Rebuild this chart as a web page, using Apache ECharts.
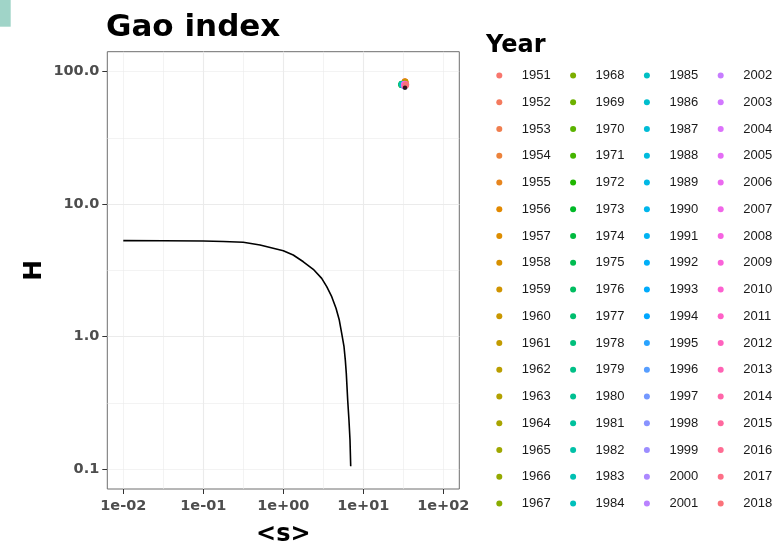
<!DOCTYPE html>
<html>
<head>
<meta charset="utf-8">
<script src="https://cdn.jsdelivr.net/npm/echarts@6/dist/echarts.min.js"></script>
<style>
  html, body { margin: 0; padding: 0; background: #ffffff; }
  #chart { width: 779px; height: 545px; }
</style>
</head>
<body>
<div id="chart"></div>
<script>
// Years shown in the legend, one scatter series each
const years = [
  1951, 1952, 1953, 1954, 1955, 1956, 1957, 1958, 1959, 1960, 1961, 1962, 1963, 1964, 1965, 1966, 1967,
  1968, 1969, 1970, 1971, 1972, 1973, 1974, 1975, 1976, 1977, 1978, 1979, 1980, 1981, 1982, 1983, 1984,
  1985, 1986, 1987, 1988, 1989, 1990, 1991, 1992, 1993, 1994, 1995, 1996, 1997, 1998, 1999, 2000, 2001,
  2002, 2003, 2004, 2005, 2006, 2007, 2008, 2009, 2010, 2011, 2012, 2013, 2014, 2015, 2016, 2017, 2018
];

// Mean size <s> per year
const yearS = [
  32.8, 33.4, 33.0, 33.6, 32.6, 33.2, 33.8, 32.9, 33.3, 32.5, 32.2, 32.7, 32.0, 32.4, 31.8, 32.1, 31.6,
  30.4, 30.0, 30.6, 29.8, 30.2, 30.8, 30.1, 30.5, 29.9, 30.7, 30.3, 30.9, 30.0, 30.6, 31.0, 30.2, 30.8,
  31.8, 32.2, 31.6, 32.5, 32.0, 32.4, 32.8, 31.9, 32.6, 32.3, 33.0, 32.7, 33.2, 32.1, 32.9, 33.1, 32.5,
  32.2, 32.6, 33.0, 32.4, 33.4, 32.8, 33.6, 32.5, 33.2, 33.8, 32.9, 33.5, 34.0, 33.3, 34.2, 33.9, 34.4
];

// Index H per year
const yearH = [
  83.0, 84.0, 84.5, 83.5, 82.5, 84.2, 83.2, 82.8, 83.8, 82.0, 81.6, 82.4, 81.2, 81.8, 80.8, 81.4, 80.4,
  80.2, 79.6, 80.6, 79.2, 80.0, 79.8, 80.4, 79.0, 80.8, 79.4, 80.1, 79.7, 79.3, 80.5, 79.9, 80.3, 79.5,
  79.0, 78.4, 79.4, 78.0, 78.8, 78.2, 77.8, 78.6, 77.6, 79.0, 77.4, 78.1, 77.9, 78.5, 77.7, 78.3, 78.9,
  80.5, 79.2, 81.0, 78.4, 80.0, 78.8, 80.6, 79.6, 78.0, 79.4, 77.6, 80.2, 78.6, 79.0, 80.0, 78.2, 79.4
];

// Overall point (black)
const meanS = [33.2];
const meanH = [75.5];

// Reference curve H(<s>)
const curveS = [0.01, 0.0316, 0.1, 0.178, 0.316, 0.512, 1.0, 1.33, 1.78, 2.37, 3.02, 3.49,
                4.03, 4.56, 5.01, 5.37, 5.74, 5.96, 6.13, 6.38, 6.62, 6.82, 6.96];
const curveH = [5.30, 5.29, 5.27, 5.22, 5.15, 4.91, 4.45, 4.13, 3.67, 3.22, 2.75, 2.38,
                2.00, 1.635, 1.334, 1.058, 0.839, 0.665, 0.528, 0.332, 0.234, 0.166, 0.105];

// Axis ticks
const xTicks = [0.01, 0.1, 1, 10, 100];
const xTickLabels = ['1e-02', '1e-01', '1e+00', '1e+01', '1e+02'];
const yTicks = [0.1, 1, 10, 100];
const yTickLabels = ['0.1', '1.0', '10.0', '100.0'];

// Evenly spaced hues in polar LUV (l = 65, c = 100), like a default discrete colour scale
function hclToHex(h, c, l) {
  const hr = h * Math.PI / 180;
  const U = c * Math.cos(hr), V = c * Math.sin(hr);
  const Xn = 95.047, Yn = 100.0, Zn = 108.883;
  const den = Xn + 15 * Yn + 3 * Zn;
  const un = 4 * Xn / den, vn = 9 * Yn / den;
  const Y = l > 8 ? Yn * Math.pow((l + 16) / 116, 3) : Yn * l / 903.3;
  const u = U / (13 * l) + un, v = V / (13 * l) + vn;
  const X = 9 * Y * u / (4 * v);
  const Z = Y * (12 - 3 * u - 20 * v) / (4 * v);
  const x = X / 100, y = Y / 100, z = Z / 100;
  const lin = [
    3.240479 * x - 1.537150 * y - 0.498535 * z,
    -0.969256 * x + 1.875992 * y + 0.041556 * z,
    0.055648 * x - 0.204043 * y + 1.057311 * z
  ];
  return '#' + lin.map(function (ch) {
    let g = ch <= 0.0031308 ? 12.92 * ch : 1.055 * Math.pow(ch, 1 / 2.4) - 0.055;
    g = Math.max(0, Math.min(1, g));
    const s = Math.round(g * 255).toString(16);
    return s.length < 2 ? '0' + s : s;
  }).join('');
}
const palette = years.map(function (_, i) {
  return hclToHex(15 + i * 360 / years.length, 100, 65);
});

function tickFormatter(ticks, labels) {
  return function (v) {
    let best = 0, bd = Infinity;
    ticks.forEach(function (t, i) {
      const d = Math.abs(Math.log10(t) - Math.log10(v));
      if (d < bd) { bd = d; best = i; }
    });
    return labels[best];
  };
}

const boldFont = 'DejaVu Sans';
const gridColor = '#ebebeb';

const series = [];
series.push({
  name: 'curve',
  type: 'line',
  xAxisIndex: 0, yAxisIndex: 0,
  data: curveS.map(function (s, i) { return [s, curveH[i]]; }),
  showSymbol: false,
  symbol: 'none',
  lineStyle: { color: '#000000', width: 1.6, join: 'round' },
  z: 3
});
years.forEach(function (yr, i) {
  series.push({
    name: String(yr),
    type: 'scatter',
    xAxisIndex: 0, yAxisIndex: 0,
    data: [[yearS[i], yearH[i]]],
    symbol: 'circle',
    symbolSize: 6,
    itemStyle: { color: palette[i], opacity: 1 },
    z: 4
  });
});
series.push({
  name: 'all',
  type: 'scatter',
  xAxisIndex: 0, yAxisIndex: 0,
  data: meanS.map(function (s, i) { return [s, meanH[i]]; }),
  symbol: 'circle',
  symbolSize: 4.5,
  itemStyle: { color: '#000000' },
  z: 5
});

// Four legend columns of 17 years each
const legendCols = [0, 1, 2, 3].map(function (c) {
  return {
    orient: 'vertical',
    left: 496.3 + c * 73.8,
    top: 69,
    height: 470,
    padding: 0,
    itemWidth: 35,
    itemHeight: 6,
    itemGap: 13.75,
    icon: 'circle',
    selectedMode: false,
    textStyle: { fontFamily: 'Liberation Sans', fontSize: 13, color: '#1a1a1a' },
    data: years.slice(c * 17, c * 17 + 17).map(String)
  };
});

const option = {
  animation: false,
  backgroundColor: '#ffffff',
  title: [
    {
      text: 'Gao index',
      left: 106, top: 12, padding: 0,
      textStyle: { fontFamily: boldFont, fontWeight: 'bold', fontSize: 31, color: '#000000' }
    },
    {
      text: 'Year',
      left: 486, top: 34, padding: 0,
      textStyle: { fontFamily: boldFont, fontWeight: 'bold', fontSize: 24, color: '#000000' }
    }
  ],
  graphic: [{
    type: 'rect',
    shape: { x: 0, y: 0, width: 10.7, height: 26.7 },
    style: { fill: '#a0d4c8' },
    silent: true
  }],
  legend: legendCols,
  grid: {
    left: 107.3, right: 319.7, top: 51.7, bottom: 56,
    containLabel: false,
    outerBoundsMode: 'none',
    show: true, backgroundColor: '#ffffff', borderColor: '#6e6e6e', borderWidth: 1
  },
  xAxis: [
    {
      type: 'log', logBase: 10,
      min: Math.pow(10, -2.2), max: Math.pow(10, 2.2),
      position: 'bottom',
      name: '<s>', nameLocation: 'middle', nameGap: 34,
      nameTextStyle: { fontFamily: boldFont, fontWeight: 'bold', fontSize: 24, color: '#000000' },
      axisLine: { show: false, onZero: false },
      axisTick: { show: true, customValues: xTicks, length: 5, lineStyle: { color: '#333333', width: 1 } },
      axisLabel: {
        customValues: xTicks, margin: 10,
        formatter: tickFormatter(xTicks, xTickLabels),
        fontFamily: boldFont, fontWeight: 'bold', fontSize: 14.5, color: '#4d4d4d'
      },
      splitLine: { show: true, showMinLine: false, showMaxLine: false, lineStyle: { color: gridColor, width: 1.1 } }
    },
    {
      type: 'value', min: -2.2, max: 2.2, splitNumber: 9, minInterval: 0.5, maxInterval: 0.5,
      position: 'top',
      axisLine: { show: false, onZero: false }, axisTick: { show: false }, axisLabel: { show: false },
      splitLine: { show: true, showMinLine: false, showMaxLine: false, lineStyle: { color: gridColor, width: 0.6 } }
    }
  ],
  yAxis: [
    {
      type: 'log', logBase: 10,
      min: Math.pow(10, -1.15), max: Math.pow(10, 2.15),
      position: 'left',
      name: 'H', nameLocation: 'middle', nameGap: 60,
      nameTextStyle: { fontFamily: boldFont, fontWeight: 'bold', fontSize: 25, color: '#000000' },
      axisLine: { show: false, onZero: false },
      axisTick: { show: true, customValues: yTicks, length: 5, lineStyle: { color: '#333333', width: 1 } },
      axisLabel: {
        customValues: yTicks, margin: 8, padding: [3, 0, 0, 0],
        formatter: tickFormatter(yTicks, yTickLabels),
        fontFamily: boldFont, fontWeight: 'bold', fontSize: 14.5, color: '#4d4d4d'
      },
      splitLine: { show: true, showMinLine: false, showMaxLine: false, lineStyle: { color: gridColor, width: 1.1 } }
    },
    {
      type: 'value', min: -1.15, max: 2.15, splitNumber: 7, minInterval: 0.5, maxInterval: 0.5,
      position: 'right',
      axisLine: { show: false, onZero: false }, axisTick: { show: false }, axisLabel: { show: false },
      splitLine: { show: true, showMinLine: false, showMaxLine: false, lineStyle: { color: gridColor, width: 0.6 } }
    }
  ],
  series: series
};

const chart = echarts.init(document.getElementById('chart'), null, { renderer: 'canvas' });
chart.setOption(option);
</script>
</body>
</html>
